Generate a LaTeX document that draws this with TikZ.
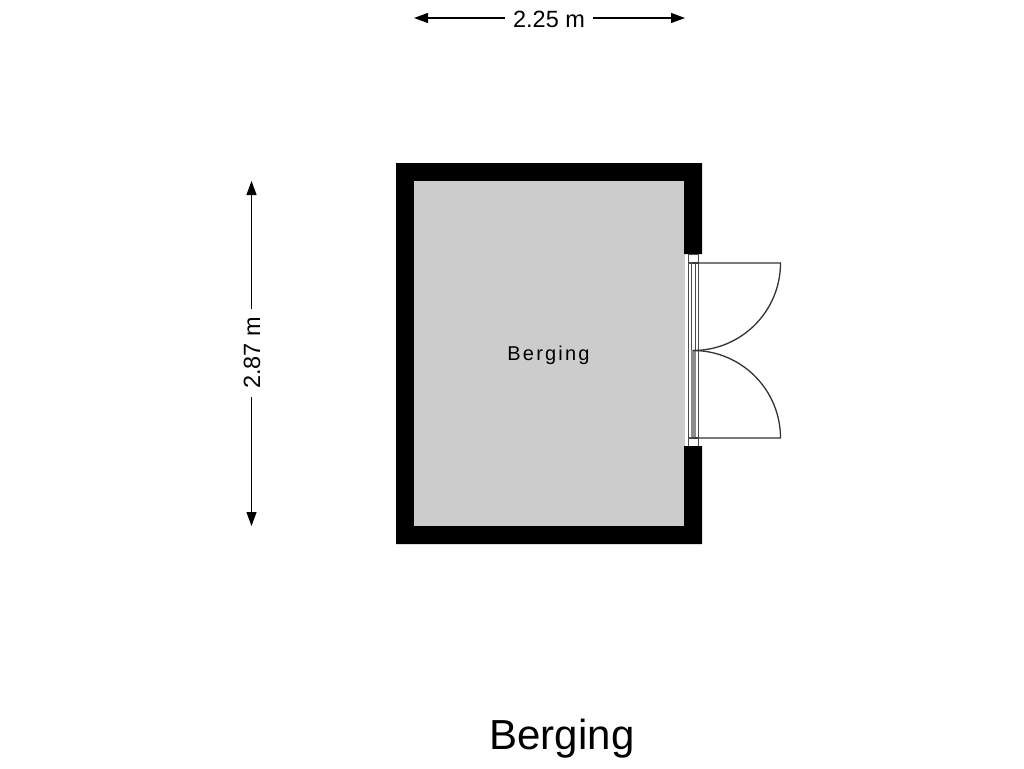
\documentclass[tikz,border=0pt]{standalone}
\usepackage{fontspec}
\setmainfont{Liberation Sans}
\usetikzlibrary{arrows.meta}
\newfontfamily\spacedfont[LetterSpace=11]{Liberation Sans}
\definecolor{floorgrey}{HTML}{CCCCCC}
\definecolor{doorgrey}{HTML}{4A4A4A}
\definecolor{leafgrey}{HTML}{333333}
\definecolor{panelgrey}{HTML}{8C8C8C}
\tikzset{
  wallblock/.style={fill=black,draw=none},
  floorarea/.style={fill=floorgrey,draw=none},
  doorline/.style={draw=doorgrey,line width=1.2pt},
  leaf/.style={draw=leafgrey,line width=1.3pt},
  dimline/.style={draw=black,line width=1.2pt},
  dimarrow/.style={dimline,-{Triangle[length=14pt,width=10pt]}},
  dimlabel/.style={inner sep=0pt,font=\fontsize{23.5}{26}\selectfont,text=black}
}
\begin{document}
\begin{tikzpicture}[x=1pt,y=-1pt]
\useasboundingbox (0,0) rectangle (1024,768);
% walls and floor
\fill[wallblock] (396,163) -- (702,163) -- (702,254) -- (684,254) -- (684,181) -- (414,181) -- (414,526) -- (684,526) -- (684,446) -- (702,446) -- (702,544) -- (396,544) -- cycle;
\fill[floorarea] (414,181) rectangle (684,526);
\fill[floorarea] (684,254) rectangle (685,446);
% door frame
\fill[panelgrey] (690.5,350) rectangle (696,438);
\draw[doorline] (688.3,254) -- (688.3,446);
\draw[doorline] (698.3,254) -- (698.3,446);
\draw[doorline] (691.7,263) -- (691.7,350);
\draw[doorline] (695.3,263) -- (695.3,350);
\draw[doorline] (688.3,254.5) -- (698.3,254.5);
\draw[doorline] (688.3,263) -- (698.3,263);
\draw[doorline] (688.3,438) -- (698.3,438);
% door leaves
\draw[leaf] (693,263) -- (780.5,263) arc[start angle=0,end angle=90,radius=87.5];
\draw[leaf] (693,438) -- (780.5,438) arc[start angle=0,end angle=-90,radius=87.5];
\draw[leaf] (693,350.5) -- (700,350.5);
% labels
\node[dimlabel] (topdim) at (549,19.5) {2.25 m};
\node[dimlabel,rotate=90] (leftdim) at (252,353) {2.87 m};
\node[inner sep=0pt,font=\fontsize{20}{24}\spacedfont] (room) at (548.5,355) {Berging};
\node[inner sep=0pt,font=\fontsize{42}{46}\selectfont] (title) at (562,739) {Berging};
% dimension lines
\coordinate (tl) at (414,18);
\coordinate (tr) at (685,18);
\coordinate (tla) at (505,18);
\coordinate (tra) at (593,18);
\coordinate (lt) at (251.5,181);
\coordinate (lb) at (251.5,526);
\coordinate (lta) at (251.5,309);
\coordinate (lba) at (251.5,397);
\draw[dimarrow] (tla) -- (tl);
\draw[dimarrow] (tra) -- (tr);
\draw[dimarrow] (lta) -- (lt);
\draw[dimarrow] (lba) -- (lb);
\end{tikzpicture}
\end{document}
